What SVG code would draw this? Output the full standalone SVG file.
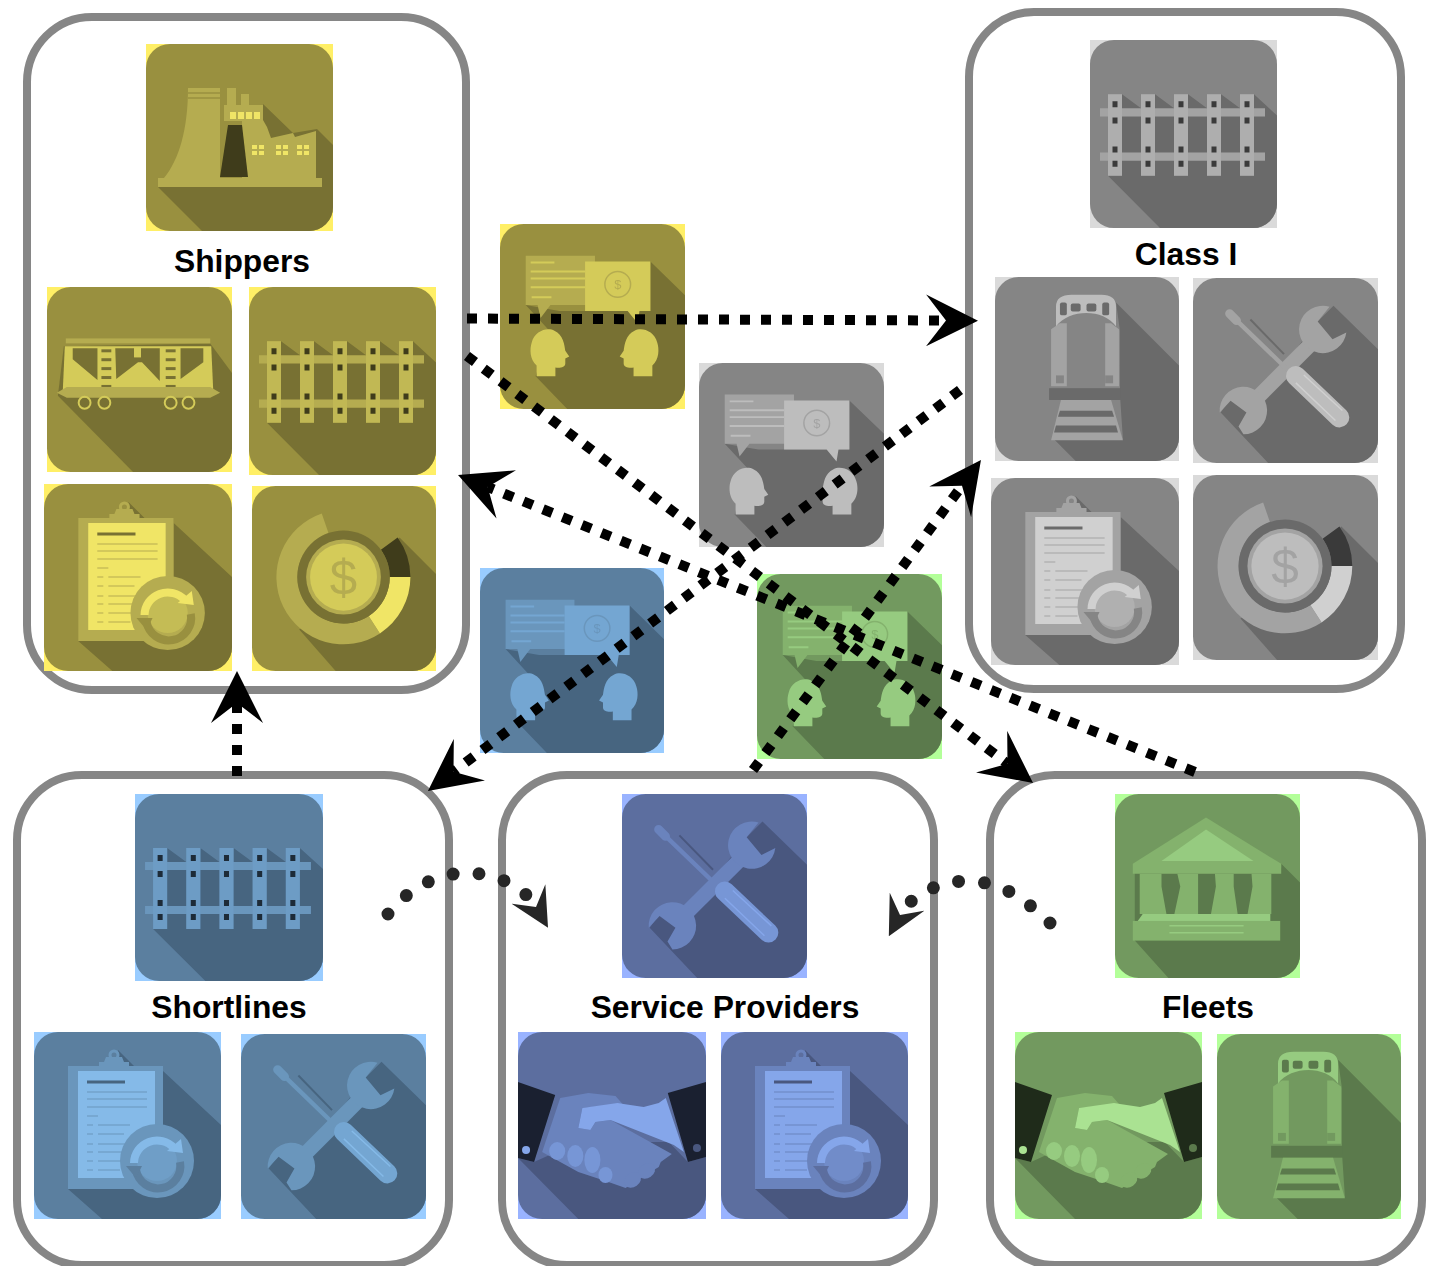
<svg xmlns="http://www.w3.org/2000/svg" width="1429" height="1266" viewBox="0 0 1429 1266">
<style>
.yl{--c:#FFEF66;--b:#99903F;--d:#787133;--m:#B5AC50;--l:#D4CB59;--h:#F0E566;--k:#3F3C1B}
.gr{--c:#DADADA;--b:#858585;--d:#6A6A6A;--m:#A3A3A3;--l:#BDBDBD;--h:#D0D0D0;--k:#3A3A3A}
.bl{--c:#99CCFF;--b:#5B7F9F;--d:#476580;--m:#6A96BC;--l:#74A6D2;--h:#85BAE8;--k:#1D2B38}
.in{--c:#99B3FF;--b:#5C6E9F;--d:#49577F;--m:#6A83BD;--l:#7796D6;--h:#85A6EA;--k:#1A2030}
.gn{--c:#B3FF99;--b:#72995F;--d:#5B7A4C;--m:#84B26D;--l:#96CB80;--h:#AAE292;--k:#1F2B1A}
.c{fill:var(--c)}.b{fill:var(--b)}.d{fill:var(--d)}.m{fill:var(--m)}.l{fill:var(--l)}.h{fill:var(--h)}.k{fill:var(--k)}
.sd{stroke:var(--d);fill:none}.sb{stroke:var(--b);fill:none}.sm{stroke:var(--m);fill:none}.sl{stroke:var(--l);fill:none}.sh{stroke:var(--h);fill:none}
.box{fill:#fff;stroke:#868686;stroke-width:8}
.lbl{font:bold 31.800px "Liberation Sans",Arial,sans-serif;fill:#000;text-anchor:middle}
.dollar{font-family:"Liberation Sans",Arial,sans-serif;text-anchor:middle}
.dash{fill:none;stroke:#000;stroke-width:10;stroke-dasharray:10 11}
.dots{fill:none;stroke:#262626;stroke-width:13;stroke-linecap:round;stroke-dasharray:0 26}
use{filter:url(#soft)}
</style>
<defs>
<filter id="soft" x="0" y="0" width="1" height="1" color-interpolation-filters="sRGB"><feGaussianBlur stdDeviation="0.45"/></filter>
<clipPath id="tc"><rect width="187" height="187" rx="24"/></clipPath>
<marker id="big" markerUnits="userSpaceOnUse" viewBox="0 0 52 52" refX="20" refY="26" markerWidth="52" markerHeight="52" orient="auto"><path d="M0,0L52,26L0,52L20,26Z" fill="#000"/></marker>
<marker id="small" markerUnits="userSpaceOnUse" viewBox="0 0 52 52" refX="20" refY="26" markerWidth="39" markerHeight="39" orient="auto"><path d="M0,0L52,26L0,52L20,26Z" fill="#262626"/></marker>
<symbol id="factory" viewBox="0 0 187 187" preserveAspectRatio="none">
<rect class="c" width="187" height="187"/><rect class="b" width="187" height="187" rx="24"/>
<path class="d" clip-path="url(#tc)" d="M12,143L56,187H187V101L171,85L147,89L117,60L112,143Z"/>
<path class="m" d="M42,44H74V134H18C33,116 42,85 42,44Z"/>
<path class="sb" stroke-width="1.500" d="M42,49H74M42,54H74"/>
<rect class="m" x="81" y="44" width="9" height="18"/><rect class="m" x="95" y="50" width="8" height="12"/>
<rect class="m" x="78" y="61" width="39" height="16"/>
<path class="m" d="M96,76H117L121,83L125,94L147,89L149,93L170,87V134H96Z"/>
<path class="k" d="M82,81H96L102,133H74Z"/>
<g class="h"><rect x="84" y="68" width="6" height="7"/><rect x="92" y="68" width="6" height="7"/><rect x="100" y="68" width="6" height="7"/><rect x="108" y="68" width="6" height="7"/>
<path d="M106,101h5v4h-5zM113,101h5v4h-5zM106,107h5v4h-5zM113,107h5v4h-5zM130,101h5v4h-5zM137,101h5v4h-5zM130,107h5v4h-5zM137,107h5v4h-5zM151,101h5v4h-5zM158,101h5v4h-5zM151,107h5v4h-5zM158,107h5v4h-5z"/></g>
<rect class="m" x="12" y="134" width="164" height="9"/>
</symbol>
<symbol id="wagon" viewBox="0 0 187 187" preserveAspectRatio="none">
<rect class="c" width="187" height="187"/><rect class="b" width="187" height="187" rx="24"/>
<path class="d" clip-path="url(#tc)" d="M11,110L87,187H187V87L165,57L17,60Z"/>
<rect class="m" x="19" y="52" width="146" height="5"/>
<path class="l" d="M18,60H166L168,104H16Z"/>
<path class="d" d="M26,62H51V94L26,73ZM69,62H88V71H95V62H114V95L96,76L92,76L70,93ZM135,62H158V76L135,93Z"/>
<rect class="l" x="88" y="62" width="7" height="9"/>
<g class="d"><rect x="55" y="63" width="10" height="3"/><rect x="55" y="72" width="10" height="3"/><rect x="55" y="81" width="10" height="3"/><rect x="55" y="90" width="10" height="3"/><rect x="55" y="99" width="10" height="3"/><rect x="120" y="63" width="10" height="3"/><rect x="120" y="72" width="10" height="3"/><rect x="120" y="81" width="10" height="3"/><rect x="120" y="90" width="10" height="3"/><rect x="120" y="99" width="10" height="3"/></g>
<path class="m" d="M10,107L20,101H165L175,107L165,112H20Z"/>
<g class="sl" stroke-width="2"><circle cx="38" cy="117" r="6"/><circle cx="58" cy="117" r="6"/><circle cx="125" cy="117" r="6"/><circle cx="143" cy="117" r="6"/></g>
</symbol>
<symbol id="rail" viewBox="0 0 187 187" preserveAspectRatio="none">
<rect class="c" width="187" height="187"/><rect class="b" width="187" height="187" rx="24"/>
<path class="d" clip-path="url(#tc)" d="M18,135L70,187H187V75L164,54V68H150L131,54V68H117L98,54V68H84L65,54V68H51L32,54V76L18,112Z"/>
<path class="m" d="M10,68H175V76H10ZM10,112H175V120H10Z"/>
<path class="m" d="M18,54h14v81h-14zM51,54h14v81h-14zM84,54h14v81h-14zM117,54h14v81h-14zM150,54h14v81h-14z"/>
<path class="l" opacity="0.4" d="M18,54h14v81h-14zM51,54h14v81h-14zM84,54h14v81h-14zM117,54h14v81h-14zM150,54h14v81h-14z"/>
<path class="k" d="M22.500,61h5v6h-5zM22.500,77h5v6h-5zM22.500,106h5v6h-5zM22.500,120h5v6h-5zM55.500,61h5v6h-5zM55.500,77h5v6h-5zM55.500,106h5v6h-5zM55.500,120h5v6h-5zM88.500,61h5v6h-5zM88.500,77h5v6h-5zM88.500,106h5v6h-5zM88.500,120h5v6h-5zM121.500,61h5v6h-5zM121.500,77h5v6h-5zM121.500,106h5v6h-5zM121.500,120h5v6h-5zM154.500,61h5v6h-5zM154.500,77h5v6h-5zM154.500,106h5v6h-5zM154.500,120h5v6h-5z"/>
</symbol>
<symbol id="clip" viewBox="0 0 187 187" preserveAspectRatio="none">
<rect class="c" width="187" height="187"/><rect class="b" width="187" height="187" rx="24"/>
<path class="d" clip-path="url(#tc)" d="M34,157L68,187H187V93L129,39V34H100L84,18V34H34Z"/>
<rect class="m" x="34" y="34" width="95" height="123"/>
<rect class="h" x="44" y="39" width="77" height="107"/>
<circle class="sm" stroke-width="3" cx="80" cy="23" r="4"/><path class="m" d="M72,25H88L90,30H95V35H65V30H70Z"/>
<path class="sm" stroke-width="1.200" d="M53,60H113M53,67H113M53,75H113M53,84H64M53,93H59M53,102H59M53,112H59M53,120H59M53,129H59M53,138H59M64,93H96M64,102H90M64,112H96M64,120H90M64,129H90M64,138H86"/>
<path class="sd" stroke-width="3" d="M53,50H91"/>
<circle class="m" cx="123" cy="129" r="37"/>
<circle class="l" opacity="0.5" cx="123" cy="129" r="20"/>
<path class="sb" stroke-width="8" d="M102,138A22,22 0 0 0 146,130"/>
<path class="b" d="M92,134H108L102,146Z"/>
<path class="sh" stroke-width="8" d="M100,131A23,23 0 0 1 140,116"/>
<path class="h" d="M147,107L149,121L133,119Z"/>
</symbol>
<symbol id="donut" viewBox="0 0 187 187" preserveAspectRatio="none">
<rect class="c" width="187" height="187"/><rect class="b" width="187" height="187" rx="24"/>
<path class="d" clip-path="url(#tc)" d="M150,52L187,89V187H85L48,145Z"/>
<path class="m" d="M130,149A68,68 0 1 1 70.900,27.700L77.700,47.500A47,47 0 1 0 118.600,131.400Z"/>
<path class="h" d="M161,92A68,68 0 0 1 130,149L118.600,131.400A47,47 0 0 0 140,92Z"/>
<path class="k" d="M148,52A68,68 0 0 1 161,92H140A47,47 0 0 0 131,64.400Z"/>
<circle class="d" cx="93" cy="92" r="47"/>
<circle class="m" cx="93" cy="92" r="38"/>
<circle class="l" cx="93" cy="92" r="34"/>
<text class="dollar m" x="93" y="110" font-size="50">$</text>
</symbol>
<symbol id="train" viewBox="0 0 187 187" preserveAspectRatio="none">
<rect class="c" width="187" height="187"/><rect class="b" width="187" height="187" rx="24"/>
<path class="d" clip-path="url(#tc)" d="M123,26L187,90V187H82L60,165H130L127,120V55Z"/>
<path class="m" d="M57,53L66,47H73V111H57ZM112,47H118L126,53V111H112Z"/>
<path class="l" d="M62,50V30Q62,18 78,18H108Q123,18 123,30V50C110,32 76,32 62,50Z"/>
<g class="d"><rect x="66" y="26" width="7" height="13" rx="2"/><rect x="77" y="27" width="10" height="8" rx="2"/><rect x="93" y="27" width="10" height="8" rx="2"/><rect x="109" y="26" width="7" height="13" rx="2"/></g>
<rect class="b" x="62" y="100" width="8" height="8"/><rect class="b" x="112" y="100" width="8" height="8"/>
<rect class="d" x="55" y="113" width="73" height="12"/>
<path class="m" d="M67,125H118L130,166H57Z"/>
<path class="d" d="M66,136H119L121,142H64ZM62,151H123L125,158H60Z"/>
</symbol>
<symbol id="tools" viewBox="0 0 187 187" preserveAspectRatio="none">
<rect class="c" width="187" height="187"/><rect class="b" width="187" height="187" rx="24"/>
<path class="d" clip-path="url(#tc)" d="M142,28L187,72V187H76L28,136L38,122L60,128L126,44Z"/>
<path class="sd" stroke-width="2" d="M58,42L92,77"/>
<path class="sm" stroke-width="15" d="M124,62L58,128"/>
<path class="m" d="M138,29A24,24 0 1 0 155,55L141,62L126,44Z"/>
<path class="m" d="M27,136A24,24 0 1 1 51,158L46,150L54,136L38,124Z"/>
<path class="sm" stroke-width="4.500" d="M38,37L98,95"/>
<path class="sm" stroke-width="9" stroke-linecap="round" d="M37,36L44,43"/>
<path class="sl" stroke-width="20" stroke-linecap="round" d="M104,99L148,141"/>
<path class="sh" stroke-width="1.500" d="M112,98L151,134M104,106L144,144"/>
</symbol>
<symbol id="shake" viewBox="0 0 187 187" preserveAspectRatio="none">
<rect class="c" width="187" height="187"/><rect class="b" width="187" height="187" rx="24"/>
<path class="d" clip-path="url(#tc)" d="M0,126L60,187H187V125L169,130L150,110H60L16,130Z"/>
<path class="m" d="M24,120L42,66L70,61L97,64L104,72L64,76L60,96L72,98L77,90L92,88L153,122L142,130L140,135L122,146L107,156L90,150L60,140Z"/>
<path class="h" d="M60,96L64,76L99,71L105,72L125,75L140,71L147,66L165,120L155,113L92,88L77,90L72,98Z"/>
<g class="m"><ellipse cx="128" cy="139" rx="9" ry="7" transform="rotate(-35 128 139)"/><ellipse cx="114" cy="148" rx="9" ry="7" transform="rotate(-35 114 148)"/></g>
<g class="l"><ellipse cx="39" cy="119" rx="8" ry="9"/><ellipse cx="57" cy="124" rx="8" ry="11"/><ellipse cx="74" cy="128" rx="8" ry="13"/><ellipse cx="87" cy="143" rx="7" ry="8"/></g>
<path class="k" d="M0,50L37,63L16,130L0,126ZM187,50L149,61L169,130L187,125Z"/>
<circle class="h" cx="8" cy="118" r="4"/><circle class="d" cx="178" cy="116" r="4"/>
</symbol>
<symbol id="bank" viewBox="0 0 187 187" preserveAspectRatio="none">
<rect class="c" width="187" height="187"/><rect class="b" width="187" height="187" rx="24"/>
<path class="d" clip-path="url(#tc)" d="M20,149L54,187H187V90L168,71V75H20Z"/>
<path class="m" d="M92,24L168,71V81H18V71Z"/>
<path class="l" d="M92,36L140,68H47Z"/>
<path class="m" d="M25,81H47V94L52,122H25ZM63,81H84V122H60L66,94ZM101,81H120V94L124,122H97L102,94ZM138,81H158V122H134L139,94Z"/>
<path class="l" d="M28,122H157V129H23Z"/>
<rect class="m" x="18" y="129" width="149" height="20"/>
<path class="sl" stroke-width="1.500" d="M55,134H130M55,141H130"/>
</symbol>
<symbol id="chat" viewBox="0 0 187 187" preserveAspectRatio="none">
<rect class="c" width="187" height="187"/><rect class="b" width="187" height="187" rx="24"/>
<path class="d" clip-path="url(#tc)" d="M26,82L50,108L36,154L68,187H187V72L152,38V88H60Z"/>
<path class="m" d="M26,32H96V82H51L41,95L38,82H26Z"/>
<path class="sl" stroke-width="2" d="M31,48H86M31,55H86M31,64H86"/>
<path class="sl" stroke-width="2" d="M31,39H55M32,74H52"/>
<path class="l" d="M86,38H152V88H141L139,100L129,88H86Z"/>
<circle class="sm" stroke-width="1.500" cx="119" cy="61" r="13"/>
<text class="dollar m" x="119" y="66" font-size="13">$</text>
<path class="l" d="M37,154V143C30,137 30,126 32,120C35,108 48,104 55,108C64,112 65,122 66,128L70,134L66,136V141C66,145 60,146 56,145V154Z"/>
<path class="l" transform="translate(191,0) scale(-1,1)" d="M37,154V143C30,137 30,126 32,120C35,108 48,104 55,108C64,112 65,122 66,128L70,134L66,136V141C66,145 60,146 56,145V154Z"/>
</symbol>
</defs>

<g id="shippers" class="yl">
<rect class="box" x="27" y="17" width="439" height="673" rx="65"/>
<use href="#factory" x="146" y="44" width="187" height="187"/>
<text class="lbl" x="242" y="272">Shippers</text>
<use href="#wagon" x="47" y="287" width="185" height="185"/>
<use href="#rail" x="249" y="287" width="187" height="188"/>
<use href="#clip" x="44" y="484" width="188" height="187"/>
<use href="#donut" x="252" y="486" width="184" height="185"/>
</g>
<g id="class-i" class="gr">
<rect class="box" x="969" y="12" width="432" height="677" rx="65"/>
<use href="#rail" x="1090" y="40" width="187" height="188"/>
<text class="lbl" x="1186" y="265">Class I</text>
<use href="#train" x="995" y="277" width="184" height="184"/>
<use href="#tools" x="1193" y="278" width="185" height="185"/>
<use href="#clip" x="991" y="478" width="188" height="187"/>
<use href="#donut" x="1193" y="475" width="185" height="185"/>
</g>
<g id="shortlines" class="bl">
<rect class="box" x="17" y="775" width="432" height="490" rx="65"/>
<use href="#rail" x="135" y="794" width="188" height="187"/>
<text class="lbl" x="229" y="1018">Shortlines</text>
<use href="#clip" x="34" y="1032" width="187" height="187"/>
<use href="#tools" x="241" y="1034" width="185" height="185"/>
</g>
<g id="service-providers" class="in">
<rect class="box" x="502" y="775" width="432" height="490" rx="65"/>
<use href="#tools" x="622" y="794" width="185" height="184"/>
<text class="lbl" x="725" y="1018">Service Providers</text>
<use href="#shake" x="518" y="1032" width="188" height="187"/>
<use href="#clip" x="721" y="1032" width="187" height="187"/>
</g>
<g id="fleets" class="gn">
<rect class="box" x="990" y="775" width="432" height="490" rx="65"/>
<use href="#bank" x="1115" y="794" width="185" height="184"/>
<text class="lbl" x="1208" y="1018">Fleets</text>
<use href="#shake" x="1015" y="1032" width="187" height="187"/>
<use href="#train" x="1217" y="1034" width="184" height="185"/>
</g>
<g id="chat-yellow" class="yl"><use href="#chat" x="500" y="224" width="185" height="185"/></g>
<g id="chat-grey" class="gr"><use href="#chat" x="699" y="363" width="185" height="184"/></g>
<g id="chat-blue" class="bl"><use href="#chat" x="480" y="568" width="184" height="185"/></g>
<g id="chat-green" class="gn"><use href="#chat" x="757" y="574" width="185" height="185"/></g>

<g id="connectors">
<path class="dash" marker-end="url(#big)" d="M467,318.500L946,320.500"/>
<path class="dash" marker-end="url(#big)" d="M467,356L1007.500,763.700"/>
<path class="dash" marker-end="url(#big)" d="M1195,772L487.700,487"/>
<path class="dash" marker-end="url(#big)" d="M960,390L453.500,771.700"/>
<path class="dash" marker-end="url(#big)" d="M753,770L962,485.700"/>
<path class="dash" marker-end="url(#big)" d="M237,776V703"/>
<path class="dots" marker-end="url(#small)" d="M388,914C412,884 444,872 470,873C498,874 525,888 536,907"/>
<path class="dots" marker-end="url(#small)" d="M1050,923C1025,900 1005,883 970,881C940,880 910,896 900,915"/>
</g>
</svg>
